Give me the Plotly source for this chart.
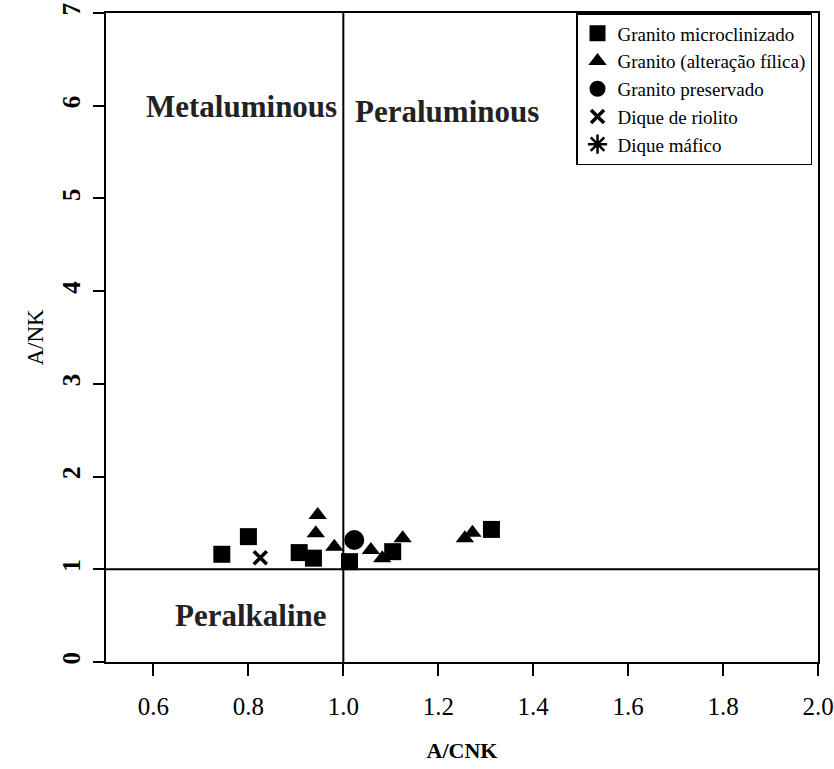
import plotly.graph_objects as go

# A/CNK (x) and A/NK (y) values
micro_x = [0.744, 0.800, 0.907, 0.937, 1.013, 1.104, 1.312]
micro_y = [1.162, 1.352, 1.180, 1.120, 1.082, 1.190, 1.430]

filica_x = [0.946, 0.942, 0.981, 1.058, 1.082, 1.125, 1.256, 1.272]
filica_y = [1.586, 1.390, 1.244, 1.208, 1.118, 1.334, 1.334, 1.395]

preserv_x = [1.023]
preserv_y = [1.316]

riolito_x = [0.825]
riolito_y = [1.125]

mafico_x = [None]
mafico_y = [None]

x_range = [0.5, 2.0]
y_range = [0, 7]
boundary_x = 1.0
boundary_y = 1.0

field_names = ["Metaluminous", "Peraluminous", "Peralkaline"]
field_x = [0.785, 1.2175, 0.805]
field_y = [5.99, 5.94, 0.50]

FONT = "Liberation Serif"

fig = go.Figure()

fig.add_trace(go.Scatter(x=micro_x, y=micro_y, mode="markers", name="Granito microclinizado",
                         marker=dict(symbol="square", size=17, color="black")))
fig.add_trace(go.Scatter(x=filica_x, y=filica_y, mode="markers", name="Granito (alteração fílica)",
                         marker=dict(symbol="triangle-up", size=16, color="black")))
fig.add_trace(go.Scatter(x=preserv_x, y=preserv_y, mode="markers", name="Granito preservado",
                         marker=dict(symbol="circle", size=20, color="black")))
fig.add_trace(go.Scatter(x=riolito_x, y=riolito_y, mode="markers", name="Dique de riolito",
                         marker=dict(symbol="x-thin", size=13, color="black",
                                     line=dict(width=3.5, color="black"))))
fig.add_trace(go.Scatter(x=mafico_x, y=mafico_y, mode="markers", name="Dique máfico",
                         marker=dict(symbol="asterisk", size=16, color="black",
                                     line=dict(width=2.5, color="black"))))

# field boundaries
fig.add_shape(type="line", x0=boundary_x, x1=boundary_x, y0=y_range[0], y1=y_range[1],
              xref="x", yref="y", line=dict(color="black", width=2))
fig.add_shape(type="line", x0=x_range[0], x1=x_range[1], y0=boundary_y, y1=boundary_y,
              xref="x", yref="y", line=dict(color="black", width=2))

for name, fx, fy in zip(field_names, field_x, field_y):
    fig.add_annotation(x=fx, y=fy, text=name, showarrow=False, xref="x", yref="y",
                       font=dict(family=FONT, size=31, color="#222222", weight="bold"))

fig.update_layout(
    width=834, height=769,
    margin=dict(l=106, r=16, t=13, b=107, autoexpand=False),
    paper_bgcolor="white", plot_bgcolor="white",
    font=dict(family=FONT, color="black"),
    showlegend=True,
    legend=dict(x=0.9916, xanchor="right", y=1.0, yanchor="top",
                bgcolor="white", bordercolor="black", borderwidth=1.5,
                font=dict(family=FONT, size=19, color="black"),
                itemsizing="trace"),
    xaxis=dict(range=x_range, tick0=0.6, dtick=0.2, tickformat=".1f",
               automargin=False,
               showgrid=False, zeroline=False,
               showline=True, linewidth=2, linecolor="black", mirror=True,
               ticks="outside", ticklen=12, tickwidth=2, tickcolor="black",
               ticklabelstandoff=9,
               tickfont=dict(family=FONT, size=25, color="black"),
               title=dict(text="A/CNK", standoff=24,
                          font=dict(family=FONT, size=22, color="black", weight="bold"))),
    yaxis=dict(range=y_range, dtick=1,
               automargin=False,
               showgrid=False, zeroline=False,
               showline=True, linewidth=2, linecolor="black", mirror=True,
               ticks="outside", ticklen=11, tickwidth=2, tickcolor="black",
               tickangle=-90, ticklabelstandoff=3,
               tickfont=dict(family=FONT, size=25, color="black", weight="bold"),
               title=dict(text="A/NK", standoff=8,
                          font=dict(family=FONT, size=23, color="black"))),
)

fig.write_html("out.html")
